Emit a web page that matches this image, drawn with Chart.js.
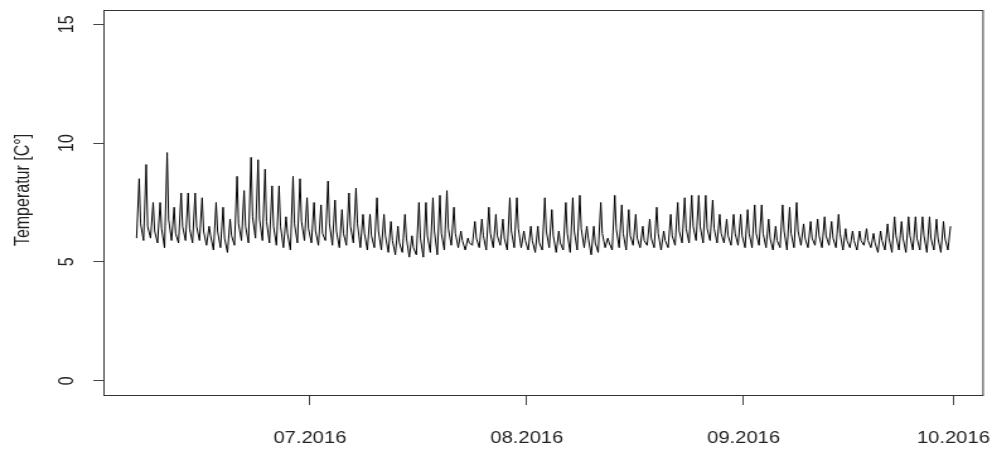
<!DOCTYPE html>
<html>
<head>
<meta charset="utf-8">
<script src="https://cdn.jsdelivr.net/npm/chart.js@4.4.1/dist/chart.umd.min.js"></script>
<style>
  html, body { margin: 0; padding: 0; background: #fff; overflow: hidden; }
  /* the plot is laid out on a narrower canvas and widened horizontally */
  #wrap { position: relative; width: 787px; height: 449px;
          transform: scaleX(1.26048); transform-origin: 0 0; }
</style>
</head>
<body>
<div id="wrap"><canvas id="c"></canvas></div>
<script>
// Hourly water temperature logger, summarised per day as night low, afternoon peak and evening value.
// Day numbers count from 1 July 2016 (day 0); the series begins on 6 June 2016.
const START_DAY = -25;
const LOW_HOUR = 5;
const PEAK_HOUR = 14;
const EVE_HOUR = 19;

const DAILY_PEAK = [
  8.5, 9.1, 7.5, 7.5, 9.6, 7.3, 7.9, 7.9, 7.9, 7.7,
  6.5, 7.5, 7.3, 6.8, 8.6, 8.0, 9.4, 9.3, 8.9, 8.2,
  8.2, 6.9, 8.6, 8.5, 7.7, 7.5, 7.4, 8.4, 7.6, 7.2,
  7.9, 8.1, 7.0, 7.0, 7.7, 7.0, 6.7, 6.5, 7.0, 6.1,
  7.5, 7.5, 7.7, 7.8, 8.0, 7.3, 6.3, 6.0, 6.7, 6.8,
  7.3, 7.0, 6.8, 7.7, 7.7, 6.3, 6.5, 6.5, 7.7, 7.2,
  6.3, 7.5, 7.7, 7.8, 6.5, 6.5, 7.5, 6.0, 7.8, 7.4,
  7.2, 7.0, 6.5, 6.8, 7.3, 6.3, 7.0, 7.5, 7.7, 7.8,
  7.8, 7.8, 7.6, 7.0, 6.8, 7.0, 7.0, 7.2, 7.4, 7.4,
  6.8, 6.5, 7.4, 7.3, 7.5, 6.6, 6.7, 6.8, 6.9, 6.7,
  7.0, 6.4, 6.3, 6.3, 6.4, 6.2, 6.3, 6.6, 6.9, 6.7,
  6.9, 6.9, 6.9, 6.9, 6.8, 6.7, 6.5
];

const DAILY_LOW = [
  6.0, 5.9, 6.0, 5.8, 5.6, 5.9, 5.8, 5.9, 5.8, 5.9,
  5.7, 5.5, 5.6, 5.4, 5.7, 5.9, 5.8, 6.0, 5.9, 5.8,
  5.7, 5.6, 5.5, 5.8, 5.9, 5.8, 5.7, 5.9, 5.7, 5.6,
  5.7, 5.8, 5.6, 5.5, 5.6, 5.5, 5.4, 5.3, 5.4, 5.2,
  5.3, 5.2, 5.4, 5.3, 5.5, 5.7, 5.6, 5.5, 5.7, 5.6,
  5.5, 5.6, 5.7, 5.5, 5.6, 5.6, 5.5, 5.4, 5.5, 5.6,
  5.4, 5.5, 5.4, 5.5, 5.6, 5.3, 5.4, 5.6, 5.5, 5.6,
  5.5, 5.7, 5.6, 5.7, 5.6, 5.5, 5.6, 5.7, 5.8, 5.8,
  5.9, 5.8, 5.9, 5.8, 5.8, 5.7, 5.7, 5.6, 5.6, 5.7,
  5.6, 5.5, 5.6, 5.5, 5.6, 5.7, 5.6, 5.7, 5.6, 5.7,
  5.6, 5.5, 5.6, 5.5, 5.7, 5.6, 5.4, 5.5, 5.4, 5.5,
  5.4, 5.5, 5.5, 5.4, 5.5, 5.4, 5.5
];

const DAILY_EVE = [
  6.6, 6.5, 6.3, 6.4, 6.8, 6.2, 6.5, 6.4, 6.5, 6.3,
  6.1, 6.3, 6.0, 6.1, 6.6, 6.5, 6.9, 6.8, 6.7, 6.5,
  6.5, 6.2, 6.6, 6.7, 6.4, 6.3, 6.2, 6.6, 6.3, 6.2,
  6.5, 6.6, 6.2, 6.1, 6.3, 6.1, 5.9, 5.8, 6.0, 5.6,
  6.0, 6.1, 6.3, 6.2, 6.4, 6.2, 5.9, 5.8, 6.0, 6.1,
  6.2, 6.1, 6.0, 6.3, 6.4, 5.9, 5.9, 5.8, 6.3, 6.1,
  5.8, 6.2, 6.3, 6.4, 6.0, 5.8, 6.2, 5.8, 6.4, 6.2,
  6.1, 6.0, 5.9, 6.0, 6.2, 5.9, 6.1, 6.3, 6.4, 6.5,
  6.5, 6.4, 6.4, 6.2, 6.1, 6.2, 6.1, 6.2, 6.2, 6.2,
  6.0, 5.9, 6.3, 6.2, 6.3, 6.0, 6.0, 6.1, 6.1, 6.0,
  6.2, 5.9, 5.9, 5.9, 5.9, 5.8, 5.9, 6.0, 6.1, 6.0,
  6.1, 6.0, 6.1, 6.0, 6.0, 6.0
];

const MONTH_TICKS = [0, 31, 62, 92];
const MONTH_LABELS = ['07.2016', '08.2016', '09.2016', '10.2016'];
const Y_TICKS = [0, 5, 10, 15];
const Y_TITLE = 'Temperatur [C°]';

// Build the line: night low, afternoon peak, evening value for every day.
const points = [];
DAILY_PEAK.forEach((peak, i) => {
  const day = START_DAY + i;
  points.push({ x: day + LOW_HOUR / 24, y: DAILY_LOW[i] });
  points.push({ x: day + PEAK_HOUR / 24, y: peak });
  if (i < DAILY_EVE.length) points.push({ x: day + EVE_HOUR / 24, y: DAILY_EVE[i] });
});

// R-style 4% padding around the data range.
const xs = points.map(p => p.x);
const xLo = Math.min(...xs), xHi = Math.max(...xs);
const xPad = (xHi - xLo) * 0.04;
const yPad = (15 - 0) * 0.04;

const FONT = 'Liberation Sans, Arial, sans-serif';
const TEXT = '#222';

const framePlugin = {
  id: 'frame',
  afterDraw(chart) {
    const { ctx, chartArea: a, scales } = chart;
    ctx.save();
    ctx.strokeStyle = '#333';
    ctx.lineWidth = 1;
    ctx.strokeRect(a.left, Math.round(a.top) + 0.5, a.right - a.left, Math.round(a.bottom - a.top));
    // rotated y tick labels
    ctx.fillStyle = TEXT;
    ctx.font = '16px ' + FONT;
    ctx.textAlign = 'center';
    ctx.textBaseline = 'middle';
    scales.y.ticks.forEach(t => {
      const y = scales.y.getPixelForValue(t.value);
      ctx.save();
      ctx.translate(54, y);
      ctx.rotate(-Math.PI / 2);
      ctx.fillText(String(t.value), 0, 0);
      ctx.restore();
    });
    // y axis title
    ctx.save();
    ctx.translate(18.5, 190);
    ctx.rotate(-Math.PI / 2);
    ctx.fillText(Y_TITLE, 0, 0);
    ctx.restore();
    ctx.restore();
  }
};

new Chart(document.getElementById('c'), {
  type: 'line',
  data: {
    datasets: [{
      data: points,
      borderColor: '#000',
      borderWidth: 1.0,
      pointRadius: 0,
      tension: 0,
      fill: false
    }]
  },
  options: {
    responsive: true,
    maintainAspectRatio: false,
    animation: false,
    events: [],
    layout: { padding: { top: 10, right: 7.1, left: 0, bottom: 0 } },
    plugins: { legend: { display: false }, tooltip: { enabled: false } },
    scales: {
      x: {
        type: 'linear',
        min: xLo - xPad,
        max: xHi + xPad,
        afterBuildTicks: s => { s.ticks = MONTH_TICKS.map(v => ({ value: v })); },
        afterFit: s => { s.height = 54; s.paddingLeft = 0; s.paddingRight = 0; },
        ticks: {
          autoSkip: false,
          maxRotation: 0,
          minRotation: 0,
          padding: 24,
          color: TEXT,
          font: { family: FONT, size: 16 },
          callback: v => MONTH_LABELS[MONTH_TICKS.indexOf(v)]
        },
        grid: { drawOnChartArea: false, drawTicks: true, tickLength: 10, tickColor: '#444' },
        border: { display: false }
      },
      y: {
        type: 'linear',
        min: 0 - yPad,
        max: 15 + yPad,
        afterBuildTicks: s => { s.ticks = Y_TICKS.map(v => ({ value: v })); },
        afterFit: s => { s.width = 82.5; s.paddingTop = 0; s.paddingBottom = 0; },
        ticks: { display: false },
        grid: { drawOnChartArea: false, drawTicks: true, tickLength: 8.5, tickColor: '#444' },
        border: { display: false }
      }
    }
  },
  plugins: [framePlugin]
});
</script>
</body>
</html>
